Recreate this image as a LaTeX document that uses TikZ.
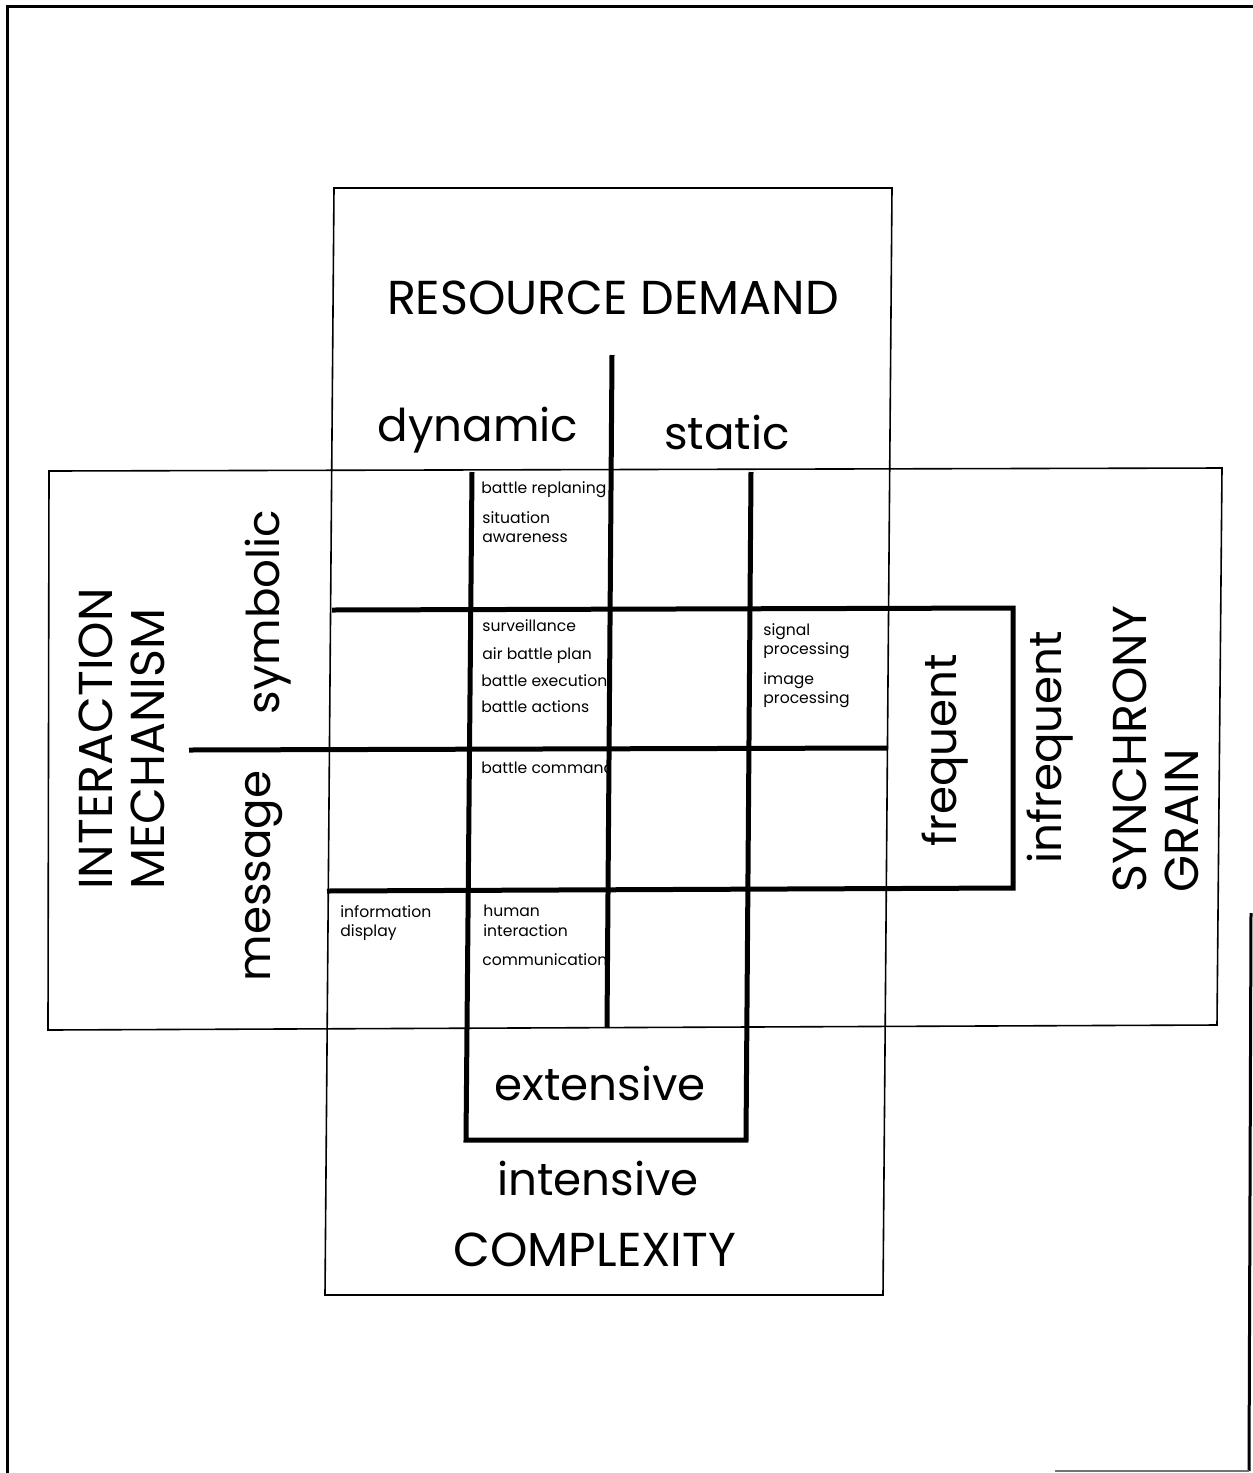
\documentclass[tikz,border=0pt]{standalone}
\usepackage{fontspec}
\setmainfont{Poppins}
\begin{document}
\begin{tikzpicture}[x=0.5pt,y=-0.5pt,
  thinline/.style={line width=0.8pt},
  thickline/.style={line width=2.5pt},
  frameline/.style={line width=1.5pt},
  bigcap/.style={font=\fontsize{23.8}{26}\selectfont, inner sep=0pt},
  biglow/.style={font=\fontsize{22.6}{24}\selectfont, inner sep=0pt},
  small/.style={font=\fontsize{7.8}{9.6}\selectfont, inner sep=0pt, anchor=north west, align=left},
]
\useasboundingbox (0,0) rectangle (1253,1473);
% outer frame
\draw[frameline] (7,1473) -- (7,6) -- (1253,6);
\draw[frameline] (1251,913) -- (1249,1471);
\draw[line width=1pt, black!55] (1055,1471) -- (1249,1471);
% vertical box
\draw[thinline] (334,188) -- (892,188) -- (883,1295) -- (325,1295) -- cycle;
% horizontal box
\draw[thinline] (49,471) -- (1222,468) -- (1217,1025) -- (48,1030) -- cycle;
% thick lines
\draw[thickline] (612,355) -- (607,1028);
\draw[thickline] (472,472) -- (466,1140) -- (746,1140) -- (751,472);
\draw[thickline] (332,610) -- (1013,608) -- (1013,888) -- (327,891);
\draw[thickline] (189,750) -- (888,748);
% big labels
\node[bigcap] (rd) at (613,298) {RESOURCE DEMAND};
\node[biglow] (dyn) at (478,430) {dynamic};
\node[biglow] (sta) at (727,432) {static};
\node[bigcap, rotate=90, align=left] (im) at (122,739) {INTERACTION\\MECHANISM};
\node[biglow, rotate=90] (sym) at (268,612) {symbolic};
\node[biglow, rotate=90] (msg) at (264,876) {message};
\node[biglow, rotate=90] (freq) at (945,750) {frequent};
\node[biglow, rotate=90] (infreq) at (1050,747) {infrequent};
\node[bigcap, rotate=90, align=left] (sg) at (1156,749) {SYNCHRONY\\GRAIN};
\node[biglow] (ext) at (600,1083) {extensive};
\node[biglow] (int) at (598,1178) {intensive};
\node[bigcap] (cx) at (595,1250) {COMPLEXITY};
% small labels
\begin{scope}
\clip (474,472) rectangle (609,1028);
\node[small] (br) at (481,481) {battle replaning};
\node[small] (sa) at (482,511) {situation\\awareness};
\node[small] (sv) at (482,619) {surveillance};
\node[small] (abp) at (482,647) {air battle plan};
\node[small] (be) at (481,674) {battle execution};
\node[small] (ba) at (481,700) {battle actions};
\node[small] (bc) at (481,762) {battle command};
\node[small] (hi) at (483,905) {human\\interaction};
\node[small] (com) at (482,953) {communications};
\end{scope}
\node[small] (sp) at (763,623) {signal\\processing};
\node[small] (ip) at (763,672) {image\\processing};
\node[small] (id) at (340,905) {information\\display};
\end{tikzpicture}
\end{document}
